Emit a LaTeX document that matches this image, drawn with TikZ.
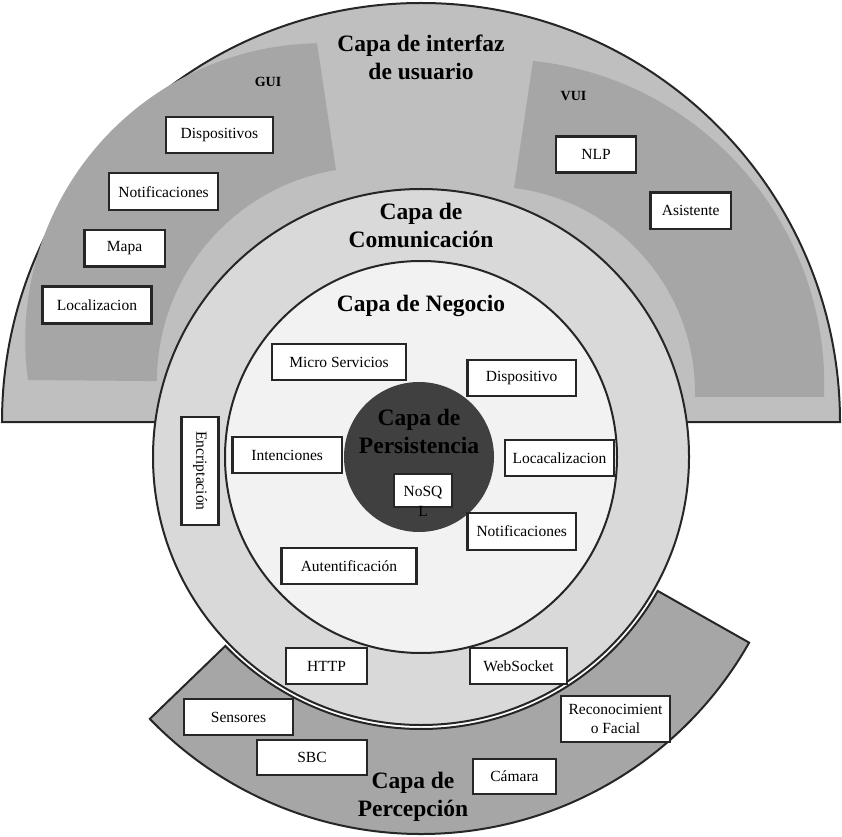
\documentclass[tikz,border=0pt]{standalone}
\usepackage{fontspec}
\setmainfont{Liberation Serif}

\definecolor{grisborde}{HTML}{262626}
\definecolor{grisclaro}{HTML}{BFBFBF}
\definecolor{grismedio}{HTML}{A6A6A6}
\definecolor{griscom}{HTML}{D9D9D9}
\definecolor{grisneg}{HTML}{F2F2F2}
\definecolor{grisoscuro}{HTML}{404040}

\begin{document}
\begin{tikzpicture}[x=1pt, y=1pt,
  borde/.style={draw=grisborde, line width=2pt},
  caja/.style={draw=grisborde, line width=2.4pt, fill=white, inner sep=0pt,
               align=center, font=\fontsize{15.5}{18.4}\selectfont},
  titulo/.style={inner sep=0pt, align=center,
                 font=\bfseries\fontsize{23.5}{28}\selectfont},
  subtitulo/.style={inner sep=0pt, font=\bfseries\fontsize{14}{16}\selectfont}]

\useasboundingbox (0,0) rectangle (842,836);
\coordinate (centro) at (421,379);

% Capa de interfaz de usuario
\draw[borde, fill=grisclaro] (2,414) arc[start angle=180, end angle=0, radius=419] -- cycle;

% Zonas GUI y VUI
\fill[grismedio] (317,793) -- (336,666) arc[start angle=99.4, end angle=180, radius=214]
  -- (28,456) arc[start angle=187.8, end angle=91, radius=296.5] -- cycle;
\fill[grismedio] (533,775) -- (514,648) arc[start angle=82.96, end angle=-1.17, radius=206.3]
  -- (824,439) arc[start angle=-2.15, end angle=83.92, radius=325.7] -- cycle;

% Capa de percepcion (queda detras)
\draw[borde, fill=grismedio] ([shift={(224:377)}]centro)
  arc[start angle=224, end angle=330.5, radius=377]
  -- ([shift={(330.5:272)}]centro)
  arc[start angle=330.5, end angle=224, radius=272] -- cycle;

% Capas de comunicacion, negocio y persistencia
\draw[borde, fill=griscom] (centro) circle[radius=268];
\draw[borde, fill=grisneg] (centro) circle[radius=196];
\fill[grisoscuro] (419,379) circle[radius=75];

% Titulos
\node[titulo] (interfaz) at (421,779) {Capa de interfaz\\de usuario};
\node[titulo] (comunicacion) at (421,611) {Capa de\\Comunicación};
\node[titulo] (negocio) at (421,530) {Capa de Negocio};
\node[titulo, text=black] (persistencia) at (419,405) {Capa de\\Persistencia};
\node[titulo] (percepcion) at (413,39) {Capa de\\Percepción};
\node[subtitulo, anchor=base] (gui) at (268,749.3) {GUI};
\node[subtitulo, anchor=base] (vui) at (573.5,735) {VUI};

% GUI
\node[caja, minimum width=107pt, minimum height=36pt] (dispositivos) at (219.5,701) {Dispositivos};
\node[caja, minimum width=109pt, minimum height=37pt] (notifgui) at (163.5,644.3) {Notificaciones};
\node[caja, minimum width=80.6pt, minimum height=36.7pt] (mapa) at (124.6,587.7) {Mapa};
\node[caja, minimum width=109pt, minimum height=36.7pt] (localizacion) at (97,531) {Localizacion};

% VUI
\node[caja, minimum width=80.5pt, minimum height=35.7pt] (nlp) at (596,681.5) {NLP};
\node[caja, minimum width=80.6pt, minimum height=36.3pt] (asistente) at (690.7,625.2) {Asistente};

% Negocio
\node[caja, minimum width=134pt, minimum height=36pt] (micro) at (339,474) {Micro Servicios};
\node[caja, minimum width=108.5pt, minimum height=36pt] (dispositivo) at (521.7,458) {Dispositivo};
\node[caja, minimum width=109.5pt, minimum height=36pt] (intenciones) at (287.2,381) {Intenciones};
\node[caja, minimum width=109pt, minimum height=36pt] (locacalizacion) at (559.5,378) {Locacalizacion};
\node[caja, minimum width=108.5pt, minimum height=37pt] (notifneg) at (521.7,304.5) {Notificaciones};
\node[caja, minimum width=135pt, minimum height=36pt] (autentificacion) at (349,270) {Autentificación};

% Persistencia
\node[caja, minimum width=58pt, minimum height=33pt] (nosql) at (423,345.5) {};
\node[inner sep=0pt, anchor=north, align=center, font=\fontsize{15.5}{20}\selectfont]
  (nosqltexto) at ([yshift=-13pt]nosql.north) {NoSQ\\L};

% Comunicacion
\node[caja, rotate=-90, minimum width=108pt, minimum height=37pt] (encriptacion) at (200,365) {Encriptación};
\node[caja, minimum width=81pt, minimum height=36pt] (http) at (326.5,170) {HTTP};
\node[caja, minimum width=97pt, minimum height=36pt] (websocket) at (518.5,170) {WebSocket};

% Percepcion
\node[caja, minimum width=109pt, minimum height=36pt] (sensores) at (238.5,119) {Sensores};
\node[caja, minimum width=110pt, minimum height=35pt] (sbc) at (312,78.5) {SBC};
\node[caja, minimum width=109pt, minimum height=46pt] (reconocimiento) at (615.5,117) {Reconocimient\\o Facial};
\node[caja, minimum width=83pt, minimum height=35pt] (camara) at (514.5,59.5) {Cámara};

\end{tikzpicture}
\end{document}
